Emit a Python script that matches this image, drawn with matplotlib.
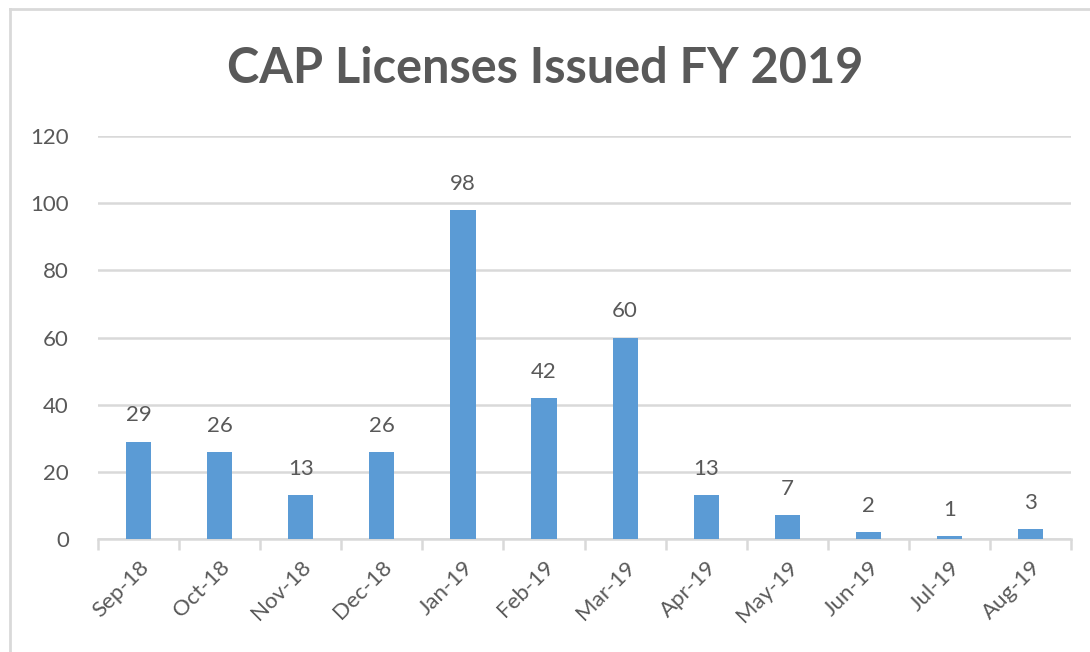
import numpy as np
import matplotlib
matplotlib.use("Agg")
import matplotlib.pyplot as plt
from matplotlib.lines import Line2D

months = ['Sep-18', 'Oct-18', 'Nov-18', 'Dec-18', 'Jan-19', 'Feb-19',
          'Mar-19', 'Apr-19', 'May-19', 'Jun-19', 'Jul-19', 'Aug-19']
licenses = [29, 26, 13, 26, 98, 42, 60, 13, 7, 2, 1, 3]
y_ticks = [0, 20, 40, 60, 80, 100, 120]

text_color = '#595959'
grid_color = '#D9D9D9'
bar_color = '#5B9BD5'

plt.rcParams['font.family'] = ['Lato', 'DejaVu Sans']

fig = plt.figure(figsize=(10.9, 6.52), dpi=100)
ax = fig.add_axes([0.09, 0.1733, 0.8926, 0.6181])

x = np.arange(len(months))
bars = ax.bar(x, licenses, width=0.31, color=bar_color, zorder=3)

# value labels above bars
for rect, val in zip(bars, licenses):
    ax.annotate(str(val), (rect.get_x() + rect.get_width() / 2, rect.get_height()),
                xytext=(0, 14.5), textcoords='offset points',
                ha='center', va='baseline', fontsize=16, color=text_color)

ax.set_xlim(-0.5, len(months) - 0.5)
ax.set_ylim(0, 120)
ax.set_yticks(y_ticks)
ax.yaxis.grid(True, color=grid_color, linewidth=1.8, zorder=0)
ax.tick_params(axis='y', length=0, pad=21, labelsize=16, labelcolor=text_color)

# category labels in the middle, tick marks at the boundaries
ax.set_xticks(x)
ax.set_xticklabels(months, rotation=45, ha='right', va='top', rotation_mode='anchor')
ax.set_xticks(np.arange(-0.5, len(months)), minor=True)
ax.tick_params(axis='x', which='major', length=0, pad=13, labelsize=16, labelcolor=text_color)
ax.tick_params(axis='x', which='minor', length=8, width=1.8, color=grid_color, direction='out')

for side in ['top', 'right', 'left']:
    ax.spines[side].set_visible(False)
ax.spines['bottom'].set_color(grid_color)
ax.spines['bottom'].set_linewidth(1.8)

fig.text(0.5, 0.895, 'CAP Licenses Issued FY 2019', ha='center', va='center',
         fontsize=35, fontweight='bold', color=text_color)

# outer chart frame (cropped screenshot: only top and left edges visible)
fig.add_artist(Line2D([0.0092, 1.0], [0.9862, 0.9862], color=grid_color, linewidth=2,
                      transform=fig.transFigure))
fig.add_artist(Line2D([0.0092, 0.0092], [0.0, 0.9862], color=grid_color, linewidth=2,
                      transform=fig.transFigure))

fig.savefig('out.png', dpi=100)
